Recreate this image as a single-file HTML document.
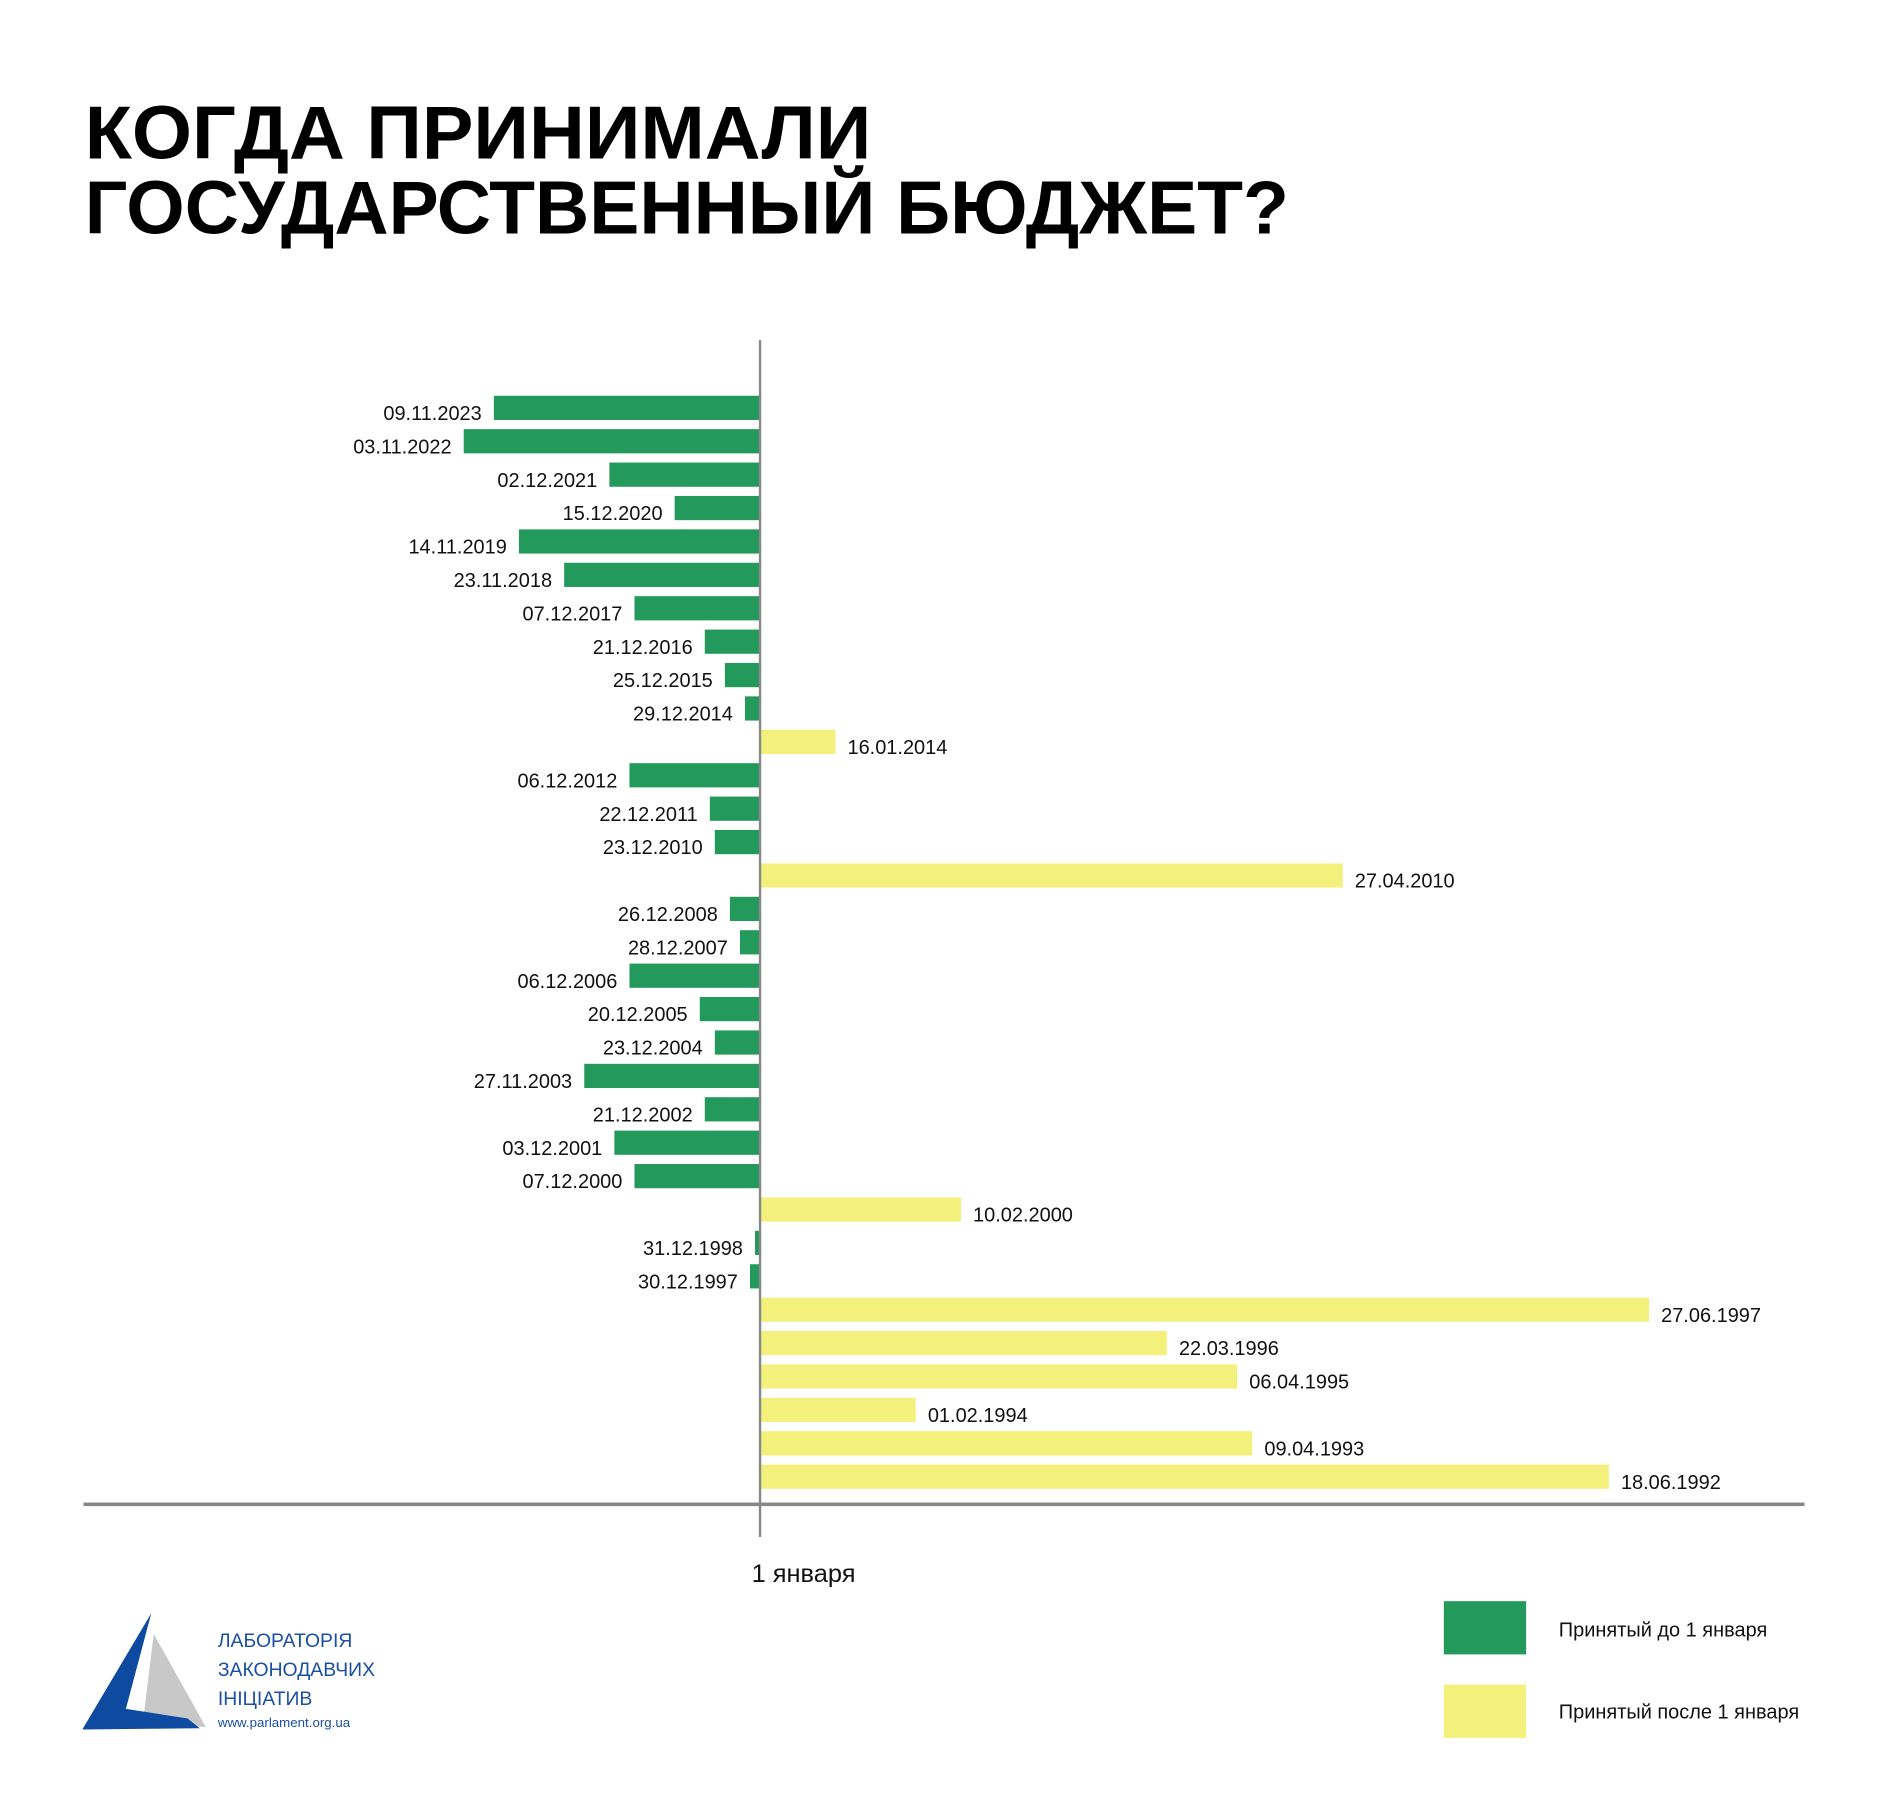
<!DOCTYPE html>
<html><head><meta charset="utf-8"><style>
html,body{margin:0;padding:0;background:#fff;}
svg{display:block;}
text{font-family:"Liberation Sans","DejaVu Sans",sans-serif;}
</style></head><body>
<svg id="chart" width="1888" height="1800" viewBox="0 0 1560 1487.3" xmlns="http://www.w3.org/2000/svg">
<rect width="1560" height="1487.3" fill="#fff"/>
<g font-weight="bold" fill="#000">
<text x="70" y="131" font-size="62" textLength="650" lengthAdjust="spacingAndGlyphs" style="font-weight:bold">КОГДА ПРИНИМАЛИ</text>
<text x="70" y="193" font-size="62" textLength="995" lengthAdjust="spacingAndGlyphs" style="font-weight:bold">ГОСУДАРСТВЕННЫЙ БЮДЖЕТ?</text>
</g>
<g id="bars"></g>
<line x1="628" y1="281" x2="628" y2="1270" stroke="#888" stroke-width="2"/>
<line x1="69" y1="1243" x2="1491" y2="1243" stroke="#888" stroke-width="3"/>
<text x="621" y="1307" font-size="21" fill="#111">1 января</text>
<g>
<rect x="1193" y="1323" width="68" height="44" fill="#239a5b"/>
<text x="1288" y="1352" font-size="16.5" fill="#111">Принятый до 1 января</text>
<rect x="1193" y="1392" width="68" height="44" fill="#f4f07c"/>
<text x="1288" y="1420" font-size="16.5" fill="#111">Принятый после 1 января</text>
</g>
<g>
<polygon points="127,1350 170,1427 118,1424" fill="#c8c8c8"/>
<polygon points="125,1333 104,1412 155,1420 165,1428 68,1429" fill="#0d4aa0"/>
<text x="180" y="1361" font-size="16" fill="#1a4fa3">ЛАБОРАТОРІЯ</text>
<text x="180" y="1385" font-size="16" fill="#1a4fa3">ЗАКОНОДАВЧИХ</text>
<text x="180" y="1409" font-size="16" fill="#1a4fa3">ІНІЦІАТИВ</text>
<text x="180" y="1427" font-size="11" fill="#1a4fa3">www.parlament.org.ua</text>
</g>
</svg>
<script>
const labels = ["09.11.2023","03.11.2022","02.12.2021","15.12.2020","14.11.2019","23.11.2018","07.12.2017","21.12.2016","25.12.2015","29.12.2014","16.01.2014","06.12.2012","22.12.2011","23.12.2010","27.04.2010","26.12.2008","28.12.2007","06.12.2006","20.12.2005","23.12.2004","27.11.2003","21.12.2002","03.12.2001","07.12.2000","10.02.2000","31.12.1998","30.12.1997","27.06.1997","22.03.1996","06.04.1995","01.02.1994","09.04.1993","18.06.1992"];
const days = [-53,-59,-30,-17,-48,-39,-25,-11,-7,-3,15,-26,-10,-9,116,-6,-4,-26,-12,-9,-35,-11,-29,-25,40,-1,-2,177,81,95,31,98,169];
const zeroX = 628, pxPerDay = 4.15, firstY = 337, rowStep = 27.6, barH = 20;
function xScale(d){ return zeroX + d * pxPerDay; }
function yScale(i){ return firstY + i * rowStep; }
const g = document.getElementById('bars');
const NS = 'http://www.w3.org/2000/svg';
labels.forEach((lab, i) => {
  const d = days[i];
  const x0 = Math.min(xScale(0), xScale(d)), x1 = Math.max(xScale(0), xScale(d));
  const cy = yScale(i);
  const r = document.createElementNS(NS, 'rect');
  
  
  r.setAttribute('x', x0); r.setAttribute('y', cy - barH/2);
  r.setAttribute('width', x1 - x0); r.setAttribute('height', barH);
  r.setAttribute('fill', d < 0 ? '#239a5b' : '#f4f07c');
  g.appendChild(r);
  const t = document.createElementNS(NS, 'text');
  
  
  t.setAttribute('font-size', '16.5');
  t.setAttribute('fill', '#111');
  t.setAttribute('y', cy + 10);
  if (d < 0) { t.setAttribute('x', x0 - 10); t.setAttribute('text-anchor', 'end'); }
  else { t.setAttribute('x', x1 + 10); }
  t.textContent = lab;
  g.appendChild(t);
});
</script>
</body></html>
